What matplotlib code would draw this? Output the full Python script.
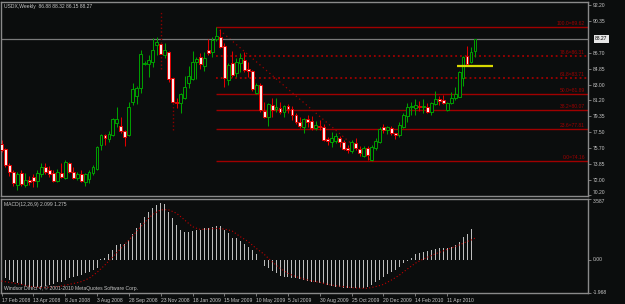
import matplotlib.pyplot as plt
import matplotlib.transforms as mtransforms
import pandas as pd

# weekly USDX candles
dates = pd.date_range('2008-02-17', periods=120, freq='7D')
opens = [76.13, 75.55, 73.70, 72.89, 71.39, 72.78, 71.39, 71.97, 72.31, 71.85,
         72.66, 73.47, 73.12, 72.78, 71.85, 72.78, 72.20, 73.93, 72.89, 72.20,
         72.66, 71.74, 72.08, 72.78, 73.24, 76.01, 77.17, 76.71, 77.17, 78.56,
         78.21, 77.63, 77.17, 80.98, 81.68, 82.60, 85.38, 85.38, 85.61, 87.57,
         87.69, 86.42, 86.76, 83.76, 80.98, 80.87, 81.45, 83.18, 83.64, 85.61,
         86.19, 85.15, 87.00, 86.76, 88.27, 88.50, 87.46, 83.53, 85.49, 84.34,
         85.49, 85.84, 84.80, 84.57, 82.02, 82.95, 79.94, 79.25, 80.64, 80.18,
         80.29, 79.83, 80.52, 80.18, 79.48, 78.67, 78.10, 79.02, 78.79, 77.98,
         78.21, 78.10, 76.71, 76.36, 76.48, 76.82, 76.36, 75.67, 75.32, 76.25,
         75.55, 74.74, 75.67, 74.28, 75.67, 76.36, 78.10, 77.75, 77.98, 77.40,
         77.17, 78.10, 79.37, 80.41, 80.29, 80.52, 80.41, 80.41, 79.83, 80.75,
         81.33, 81.22, 80.06, 80.87, 81.45, 81.56, 83.76, 86.30, 85.61, 86.88]
highs = [76.59, 75.67, 73.93, 73.12, 72.89, 73.12, 72.78, 72.43, 72.66, 73.12,
         73.93, 73.93, 73.59, 73.12, 73.24, 73.93, 74.28, 74.05, 73.47, 72.89,
         73.12, 72.78, 73.12, 73.70, 75.90, 77.29, 77.29, 77.63, 79.14, 80.41,
         79.25, 77.75, 80.98, 83.18, 82.83, 87.00, 85.70, 86.42, 88.38, 88.50,
         91.39, 87.81, 86.88, 83.88, 81.45, 82.02, 83.99, 85.15, 86.88, 86.19,
         86.65, 86.76, 88.27, 88.50, 89.62, 89.42, 87.80, 85.49, 86.88, 86.07,
         86.65, 86.76, 85.61, 84.68, 83.18, 83.18, 80.98, 80.87, 81.45, 81.45,
         80.98, 80.64, 80.75, 80.52, 79.71, 79.25, 79.14, 79.48, 79.37, 78.79,
         78.90, 78.44, 76.94, 77.52, 77.40, 77.05, 76.59, 76.01, 76.59, 76.82,
         75.90, 75.90, 75.90, 76.01, 76.82, 78.10, 78.44, 78.21, 78.21, 77.40,
         78.67, 79.71, 80.87, 80.98, 81.33, 81.10, 81.33, 80.87, 80.98, 82.26,
         81.68, 81.79, 80.98, 82.14, 82.72, 84.57, 86.30, 87.46, 87.34, 88.32]
lows = [75.20, 73.47, 72.43, 71.27, 70.81, 71.27, 71.16, 71.39, 71.16, 71.16,
        72.31, 72.66, 72.31, 71.74, 71.74, 72.20, 72.08, 72.78, 72.08, 71.97,
        71.74, 71.27, 71.62, 72.54, 73.12, 75.44, 76.01, 76.36, 77.05, 78.10,
        77.40, 75.90, 77.05, 80.64, 80.75, 82.02, 85.30, 83.88, 85.03, 86.42,
        84.80, 86.07, 83.30, 77.75, 80.29, 79.71, 81.33, 82.60, 83.53, 83.64,
        84.80, 84.57, 86.42, 86.19, 88.03, 87.23, 82.72, 82.95, 83.88, 83.88,
        84.45, 84.45, 83.88, 82.26, 81.91, 79.83, 79.14, 78.21, 79.25, 79.83,
        79.60, 79.25, 79.71, 78.90, 78.44, 77.98, 77.40, 78.10, 77.75, 77.75,
        77.75, 76.48, 76.01, 75.78, 76.25, 75.78, 75.44, 75.09, 75.09, 75.44,
        74.74, 74.63, 74.28, 74.16, 75.44, 76.25, 77.40, 77.29, 77.17, 76.71,
        76.94, 77.98, 78.67, 79.48, 79.48, 79.94, 79.71, 79.71, 79.48, 80.64,
        80.64, 80.75, 79.94, 80.75, 81.22, 81.56, 82.83, 85.26, 85.49, 86.15]
closes = [75.44, 73.70, 72.89, 71.62, 72.66, 71.50, 71.97, 71.74, 71.85, 72.78,
          73.47, 72.89, 72.66, 71.85, 72.89, 72.31, 74.05, 72.89, 72.20, 72.66,
          71.85, 72.66, 72.89, 73.47, 75.78, 77.17, 76.82, 77.29, 79.02, 79.02,
          77.63, 76.94, 80.41, 82.49, 82.60, 86.53, 85.49, 85.84, 87.00, 87.92,
          86.53, 87.00, 83.64, 80.98, 80.87, 81.91, 82.72, 83.99, 85.61, 85.96,
          85.38, 86.07, 86.65, 88.15, 88.61, 87.34, 83.76, 85.26, 84.11, 85.61,
          86.07, 84.68, 84.57, 82.49, 82.95, 80.06, 79.25, 80.75, 80.06, 80.41,
          79.83, 80.52, 80.18, 79.48, 78.67, 78.21, 79.02, 78.67, 77.98, 78.33,
          78.10, 76.59, 76.48, 76.82, 77.05, 76.36, 75.55, 75.44, 76.36, 75.67,
          75.09, 75.67, 74.86, 75.78, 76.48, 77.86, 77.75, 78.10, 77.40, 77.17,
          78.33, 79.48, 80.41, 80.52, 80.64, 80.41, 80.52, 79.83, 80.87, 81.33,
          81.10, 80.87, 80.87, 81.45, 81.91, 84.45, 86.19, 85.38, 86.76, 88.27]

# MACD(12,26,9) main (histogram) and signal line
macd = [-1.00, -1.10, -1.20, -1.33, -1.39, -1.45, -1.53, -1.60, -1.60, -1.60,
        -1.60, -1.53, -1.49, -1.45, -1.33, -1.30, -1.20, -1.10, -1.00, -0.94,
        -0.91, -0.81, -0.71, -0.61, -0.47, 0.05, 0.12, 0.31, 0.58, 0.87,
        0.90, 0.90, 1.16, 1.50, 1.85, 2.15, 2.55, 2.80, 3.03, 3.23,
        3.33, 3.27, 2.84, 2.45, 2.05, 1.76, 1.66, 1.66, 1.70, 1.76,
        1.76, 1.85, 1.89, 1.95, 2.01, 2.01, 1.76, 1.56, 1.30, 1.26,
        1.10, 0.91, 0.77, 0.58, 0.31, -0.02, -0.35, -0.47, -0.67, -0.81,
        -0.94, -1.00, -1.00, -1.06, -1.10, -1.15, -1.20, -1.25, -1.30, -1.33,
        -1.39, -1.45, -1.49, -1.53, -1.60, -1.60, -1.66, -1.70, -1.70, -1.66,
        -1.66, -1.66, -1.60, -1.49, -1.33, -1.20, -1.00, -0.87, -0.71, -0.61,
        -0.41, -0.21, -0.05, 0.12, 0.31, 0.37, 0.44, 0.52, 0.58, 0.63,
        0.67, 0.71, 0.71, 0.77, 0.87, 1.06, 1.36, 1.50, 1.80, 2.10]
signal = [-1.26, -1.30, -1.34, -1.38, -1.42, -1.46, -1.52, -1.57, -1.62, -1.63,
          -1.64, -1.65, -1.63, -1.61, -1.59, -1.55, -1.50, -1.46, -1.41, -1.36,
          -1.30, -1.20, -1.10, -0.93, -0.75, -0.53, -0.31, -0.07, 0.18, 0.42,
          0.67, 0.91, 1.16, 1.42, 1.69, 1.95, 2.21, 2.45, 2.68, 2.82,
          2.94, 2.96, 2.94, 2.85, 2.74, 2.55, 2.35, 2.15, 1.95, 1.86,
          1.79, 1.80, 1.81, 1.83, 1.85, 1.83, 1.81, 1.76, 1.69, 1.53,
          1.36, 1.22, 1.07, 0.87, 0.67, 0.50, 0.32, 0.10, -0.12, -0.32,
          -0.51, -0.66, -0.81, -0.91, -1.00, -1.07, -1.14, -1.20, -1.26, -1.30,
          -1.34, -1.40, -1.46, -1.50, -1.54, -1.57, -1.59, -1.62, -1.65, -1.67,
          -1.69, -1.69, -1.69, -1.64, -1.59, -1.53, -1.46, -1.33, -1.20, -1.06,
          -0.91, -0.73, -0.55, -0.38, -0.21, -0.08, 0.04, 0.14, 0.24, 0.34,
          0.43, 0.52, 0.61, 0.69, 0.77, 0.87, 0.97, 1.07, 1.16, 1.275]

# Fibonacci retracement drawn from the Mar 2009 high to the Nov 2009 low
fib_names = ['100.0', '78.6', '61.8', '50.0', '38.2', '23.6', '0.0']
fib_prices = [89.62, 86.31, 83.71, 81.89, 80.07, 77.81, 74.16]
fib_start, fib_end = 54, 93
yellow_level, yellow_from, yellow_to = 85.18, 114.5, 123.5

price_ticks = [92.20, 90.35, 86.70, 84.85, 83.00, 81.20, 79.35, 77.50,
               75.70, 73.85, 72.00, 70.20]
last_price = 88.27

BG = '#0b0d0d'
GRID = '#8a8a8a'
TXT = '#c8c8c8'
UP = '#00a000'
DOWN = '#e00000'
FIB = '#a00000'
FONT = 'Liberation Sans'
FS = 3.6

W, H = 625, 304
fig = plt.figure(figsize=(W / 100, H / 100), dpi=100, facecolor=BG)
ax = fig.add_axes([1 / W, 1 - 196 / H, 587 / W, 194 / H], facecolor=BG)
ax2 = fig.add_axes([1 / W, 1 - 293 / H, 587 / W, 94 / H], facecolor=BG,
                   sharex=ax)

n = len(closes)
x = list(range(n))
up = [c >= o for o, c in zip(opens, closes)]

# wicks
for i in x:
    dotted = i in (40, 43)
    ax.vlines(i, lows[i], highs[i], color='#8b0000' if dotted else
              (UP if up[i] else DOWN), lw=0.75 if not dotted else 1.0,
              linestyles=':' if dotted else '-', zorder=2)

# bodies
bottoms = [min(o, c) for o, c in zip(opens, closes)]
heights = [max(abs(c - o), 0.06) for o, c in zip(opens, closes)]
ax.bar(x, heights, bottom=bottoms, width=0.72,
       color=[BG if u else '#ffe8e8' for u in up],
       edgecolor=[UP if u else DOWN for u in up], linewidth=0.7, zorder=3)

# fib levels
xmax = 147.4
for name, p in zip(fib_names, fib_prices):
    ls = ':' if name in ('78.6', '61.8') else '-'
    ax.hlines(p, fib_start, xmax, color=FIB, lw=1.0 if ls == '-' else 1.3,
              linestyles=ls, zorder=1)
    ax.text(xmax - 0.8, p + 0.12, f'{name}={p:.2f}', color=FIB, fontsize=FS,
            family=FONT, ha='right', va='bottom', zorder=4)
ax.plot([fib_start, fib_end], [fib_prices[0], fib_prices[-1]], color=FIB,
        ls=(0, (1, 2.5)), lw=0.9, zorder=1)
ax.hlines(yellow_level, yellow_from, yellow_to, color='#d8d800', lw=1.6,
          zorder=4)
ax.axhline(last_price, color='#7a7a7a', lw=0.9, zorder=1)

ax.set_xlim(-0.13, xmax)
ax.set_ylim(70.12, 92.545)

# MACD panel
ax2.bar(x, macd, width=0.25, color='#bdbdbd', zorder=2)
ax2.plot(x, signal, color='#c00000', ls=(0, (1, 2)), lw=0.8, zorder=3)
ax2.set_ylim(-1.968, 3.587)

for a in (ax, ax2):
    for s in a.spines.values():
        s.set_color(GRID)
        s.set_linewidth(1.0)
    a.yaxis.tick_right()
    a.tick_params(axis='y', colors=GRID, labelcolor=TXT, length=2.5,
                  width=0.6, pad=1.2, labelsize=FS)
ax.set_yticks(price_ticks)
ax.set_yticklabels([f'{t:.2f}' for t in price_ticks], family=FONT)
ax.get_yticklabels()[-1].set_verticalalignment('bottom')
ax2.set_yticks([3.587, 0.0, -1.968])
ax2.set_yticklabels(['3.587', '0.00', '-1.968'], family=FONT)
for lab, va in zip(ax2.get_yticklabels(), ['top', 'center', 'center']):
    lab.set_verticalalignment(va)

tr = mtransforms.blended_transform_factory(ax.transAxes, ax.transData)
ax.text(1.012, last_price, f'{last_price:.2f}', transform=tr, fontsize=FS,
        family=FONT, color='black', va='center', ha='left',
        bbox=dict(boxstyle='square,pad=0.25', fc='#e6e6e6', ec='none'))

tick_idx = list(range(0, n, 8))
ax.tick_params(axis='x', bottom=False, labelbottom=False)
ax2.set_xticks(tick_idx)
ax2.set_xticklabels([f'{dates[i].day} {dates[i]:%b %Y}' for i in tick_idx],
                    family=FONT, ha='left')
ax2.tick_params(axis='x', colors=GRID, labelcolor=TXT, length=2.5, width=0.6,
                pad=1.0, labelsize=FS)

ax.text(0.005, 0.99, 'USDX,Weekly  86.88 88.32 86.15 88.27',
        transform=ax.transAxes, color=TXT, fontsize=FS, family=FONT,
        ha='left', va='top')
ax2.text(0.005, 0.97, 'MACD(12,26,9) 2.099 1.275', transform=ax2.transAxes,
         color=TXT, fontsize=FS, family=FONT, ha='left', va='top')
ax2.text(0.005, 0.02, 'Windsor Direct 4, © 2001-2010 MetaQuotes Software Corp.',
         transform=ax2.transAxes, color=TXT, fontsize=FS, family=FONT,
         ha='left', va='bottom')

fig.savefig('out.png', dpi=100, facecolor=BG)
